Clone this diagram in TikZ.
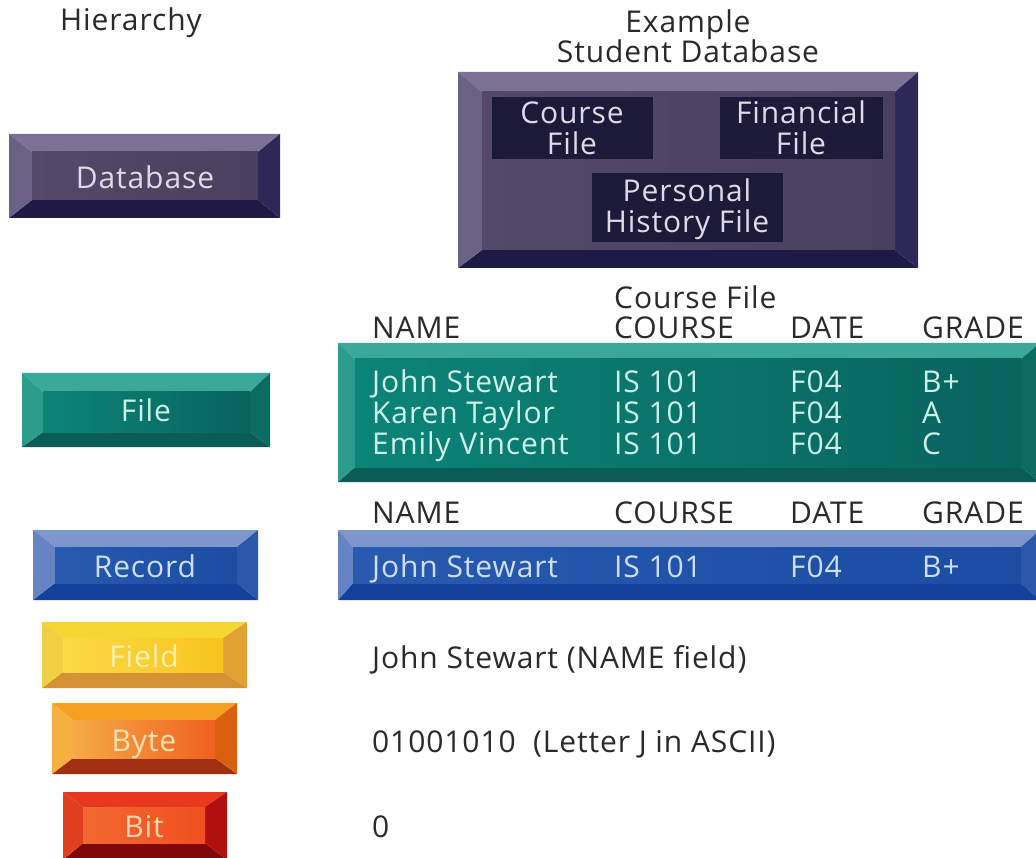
\documentclass[tikz,border=0pt]{standalone}
\usepackage{fontspec}
\setmainfont{Open Sans}[LetterSpace=3]
\definecolor{ink}{HTML}{2A2A2A}
\tikzset{
  dbT/.style={fill={rgb,255:red,122;green,115;blue,148}},
  dbL/.style={fill={rgb,255:red,106;green,97;blue,134}},
  dbR/.style={fill={rgb,255:red,45;green,40;blue,88}},
  dbB/.style={fill={rgb,255:red,30;green,26;blue,70}},
  dbF/.style={left color={rgb,255:red,84;green,73;blue,104},right color={rgb,255:red,74;green,63;blue,94}},
  flT/.style={fill={rgb,255:red,60;green,168;blue,155}},
  flL/.style={fill={rgb,255:red,43;green,156;blue,142}},
  flR/.style={fill={rgb,255:red,12;green,107;blue,99}},
  flB/.style={fill={rgb,255:red,10;green,92;blue,88}},
  flF/.style={left color={rgb,255:red,12;green,132;blue,119},right color={rgb,255:red,8;green,100;blue,94}},
  rcT/.style={fill={rgb,255:red,125;green,151;blue,204}},
  rcL/.style={fill={rgb,255:red,102;green,131;blue,196}},
  rcR/.style={fill={rgb,255:red,45;green,87;blue,169}},
  rcB/.style={fill={rgb,255:red,20;green,65;blue,154}},
  rcF/.style={left color={rgb,255:red,40;green,90;blue,176},right color={rgb,255:red,28;green,76;blue,164}},
  fdT/.style={fill={rgb,255:red,246;green,214;blue,50}},
  fdL/.style={fill={rgb,255:red,240;green,208;blue,64}},
  fdR/.style={fill={rgb,255:red,226;green,162;blue,50}},
  fdB/.style={fill={rgb,255:red,212;green,146;blue,52}},
  fdF/.style={left color={rgb,255:red,250;green,218;blue,70},right color={rgb,255:red,248;green,196;blue,30}},
  byT/.style={fill={rgb,255:red,245;green,160;blue,32}},
  byL/.style={fill={rgb,255:red,245;green,176;blue,64}},
  byR/.style={fill={rgb,255:red,216;green,96;blue,16}},
  byB/.style={fill={rgb,255:red,160;green,48;blue,16}},
  byF/.style={left color={rgb,255:red,246;green,170;blue,70},right color={rgb,255:red,240;green,96;blue,32}},
  btT/.style={fill={rgb,255:red,232;green,56;blue,32}},
  btL/.style={fill={rgb,255:red,224;green,64;blue,32}},
  btR/.style={fill={rgb,255:red,176;green,16;blue,16}},
  btB/.style={fill={rgb,255:red,128;green,8;blue,8}},
  btF/.style={left color={rgb,255:red,242;green,104;blue,48},right color={rgb,255:red,240;green,80;blue,32}},
  lbl/.style={inner sep=0pt,font=\fontsize{30}{35}\selectfont,text=ink},
  btnlbl/.style={inner sep=0pt,font=\fontsize{30}{35}\selectfont},
  inbox/.style={fill={rgb,255:red,28;green,26;blue,56},inner sep=0pt}
}
% #1 prefix, #2-#5 outer x1,y1,x2,y2, #6-#9 inner x1,y1,x2,y2
\newcommand\bevelbtn[9]{%
  \path[#1T] (#2,#3) -- (#4,#3) -- (#8,#7) -- (#6,#7) -- cycle;
  \path[#1B] (#2,#5) -- (#4,#5) -- (#8,#9) -- (#6,#9) -- cycle;
  \path[#1L] (#2,#3) -- (#6,#7) -- (#6,#9) -- (#2,#5) -- cycle;
  \path[#1R] (#4,#3) -- (#8,#7) -- (#8,#9) -- (#4,#5) -- cycle;
  \path[#1F] (#6,#7) rectangle (#8,#9);
}
\begin{document}
\begin{tikzpicture}[x=1pt,y=-1pt]
\useasboundingbox[fill=white] (0,0) rectangle (1036,858);
% titles
\node[lbl,anchor=base] (hier) at (131,31) {Hierarchy};
\node[lbl,anchor=base] (ex1) at (688,33) {Example};
\node[lbl,anchor=base] (ex2) at (688,63) {Student Database};
% database button
\bevelbtn{db}{9}{134}{280}{218}{32}{152}{258}{200}
\node[btnlbl,anchor=base,text={rgb,255:red,222;green,218;blue,230}] (dbl) at (145,189) {Database};
% big database box
\bevelbtn{db}{458}{72}{918}{268}{482}{92}{895}{250}
\path[inbox] (492,97) rectangle (653,159);
\path[inbox] (720,97) rectangle (883,159);
\path[inbox] (592,173) rectangle (783,242);
\begin{scope}[every node/.style={btnlbl,anchor=base,text={rgb,255:red,222;green,218;blue,230}}]
\node (cf1) at (572,124) {Course};
\node (cf2) at (572,155) {File};
\node (ff1) at (801,124) {Financial};
\node (ff2) at (801,155) {File};
\node (ph1) at (687,202) {Personal};
\node (ph2) at (687,233) {History File};
\end{scope}
% course file header
\begin{scope}[every node/.style={lbl,anchor=base west}]
\node (cft) at (614,309) {Course File};
\node (h1a) at (372,339) {NAME};
\node (h1b) at (614,339) {COURSE};
\node (h1c) at (790,339) {DATE};
\node (h1d) at (922,339) {GRADE};
\node (h2a) at (372,523) {NAME};
\node (h2b) at (614,523) {COURSE};
\node (h2c) at (790,523) {DATE};
\node (h2d) at (922,523) {GRADE};
\node (fld) at (372,668) {John Stewart (NAME field)};
\node (byt) at (372,752) {01001010\ \ (Letter J in ASCII)};
\node (bit) at (372,837) {0};
\end{scope}
% file table
\bevelbtn{fl}{338}{343}{1040}{482}{355}{359}{1021}{467}
\begin{scope}[every node/.style={btnlbl,anchor=base west,text={rgb,255:red,205;green,240;blue,232}}]
\node (r1a) at (372,392) {John Stewart};
\node (r1b) at (614,392) {IS 101};
\node (r1c) at (790,392) {F04};
\node (r1d) at (922,392) {B+};
\node (r2a) at (372,423) {Karen Taylor};
\node (r2b) at (614,423) {IS 101};
\node (r2c) at (790,423) {F04};
\node (r2d) at (922,423) {A};
\node (r3a) at (372,454) {Emily Vincent};
\node (r3b) at (614,454) {IS 101};
\node (r3c) at (790,454) {F04};
\node (r3d) at (922,454) {C};
\end{scope}
% record bar
\bevelbtn{rc}{338}{530}{1040}{600}{353}{547}{1021}{583}
\begin{scope}[every node/.style={btnlbl,anchor=base west,text={rgb,255:red,205;green,222;blue,245}}]
\node (ra) at (372,577) {John Stewart};
\node (rb) at (614,577) {IS 101};
\node (rc) at (790,577) {F04};
\node (rd) at (922,577) {B+};
\end{scope}
% hierarchy buttons
\bevelbtn{fl}{22}{373}{270}{447}{43}{392}{250}{432}
\node[btnlbl,anchor=base,text={rgb,255:red,205;green,240;blue,232}] (fll) at (146,421) {File};
\bevelbtn{rc}{33}{530}{258}{600}{55}{547}{237}{583}
\node[btnlbl,anchor=base,text={rgb,255:red,205;green,222;blue,245}] (rcl) at (145,577) {Record};
\bevelbtn{fd}{42}{622}{247}{688}{63}{638}{223}{672}
\node[btnlbl,anchor=base,text={rgb,255:red,255;green,240;blue,170}] (fdl) at (144,667) {Field};
\bevelbtn{by}{52}{703}{237}{774}{73}{720}{215}{758}
\node[btnlbl,anchor=base,text={rgb,255:red,255;green,226;blue,180}] (byl) at (144,751) {Byte};
\bevelbtn{bt}{63}{792}{227}{860}{83}{807}{205}{843}
\node[btnlbl,anchor=base,text={rgb,255:red,255;green,214;blue,180}] (btl) at (144,837) {Bit};
\end{tikzpicture}
\end{document}
